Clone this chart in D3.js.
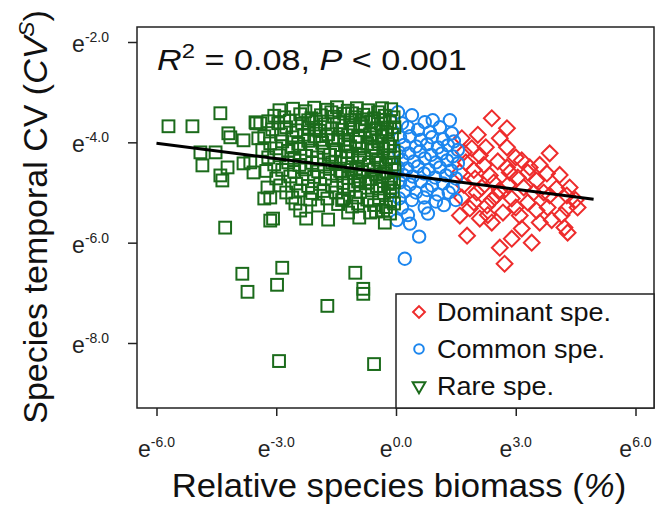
<!DOCTYPE html>
<html>
<head>
<meta charset="utf-8">
<script src="https://cdn.jsdelivr.net/npm/d3@7"></script>
<style>
  html, body { margin: 0; padding: 0; background: #fff; }
  svg { display: block; font-family: "Liberation Sans", Arial, Helvetica, sans-serif; }
</style>
</head>
<body>
<svg id="chart" width="656" height="510"></svg>
<script>
// ln(relative biomass %) vs ln(temporal CV), one list per abundance class
const rareSpecies = [
  [-5.7,-3.68],[-5.1,-3.68],[-4.4,-3.42],[-3.52,-3.6],[-3.5,-3.62],[-4.2,-3.82],[-4.15,-3.9],[-3.82,-3.96],
  [-3.45,-3.92],[-4.9,-4.2],[-4.52,-4.2],[-4.85,-4.46],[-4.4,-4.66],[-4.22,-4.5],[-3.82,-4.42],[-3.65,-4.4],
  [-3.57,-4.6],[-3.22,-4.9],[-3.15,-5.1],[-3.08,-5.52],[-3.4,-3.62],[-4.28,-5.7],[-4.35,-4.76],
  [-3.85,-6.62],[-3.72,-6.98],[-2.85,-6.5],[-2.98,-6.84],[-1.02,-6.6],[-0.82,-6.92],[-0.82,-7.02],
  [-1.72,-7.26],[-2.93,-8.36],[-0.55,-8.42],
  [-3.15,-5.56],[-2.25,-5.52],[-1.7,-5.54],[-0.92,-5.5],[-0.28,-5.6],[-3.3,-5.12],
  [-2.52,-5.22],[-2.4,-5.36],[-1.72,-5.12],[-1.32,-5.12],[-0.95,-5.22],[-0.65,-5.4],[-0.32,-5.36],
  [-2.92,-3.36],[-2.58,-3.33],[-2.27,-3.38],[-2.05,-3.31],[-1.72,-3.35],[-1.48,-3.3],[-1.21,-3.37],[-0.98,-3.32],[-0.7,-3.36],[-0.45,-3.4],[-0.12,-3.34],
  [-3.05,-3.47],[-2.8,-3.5],[-2.4,-3.44],[-2.12,-3.52],[-1.88,-3.46],[-1.55,-3.49],[-1.3,-3.43],[-1.02,-3.5],[-0.82,-3.45],[-0.55,-3.52],[-0.28,-3.47],[-0.06,-3.5],
  [-3.2,-3.58],[-2.95,-3.62],[-2.66,-3.57],[-2.35,-3.63],[-2.0,-3.59],[-1.78,-3.64],[-1.42,-3.6],[-1.15,-3.56],[-0.9,-3.63],[-0.62,-3.58],[-0.38,-3.62],[-0.15,-3.6],
  [-3.1,-3.74],[-2.75,-3.7],[-2.5,-3.76],[-2.18,-3.71],[-1.92,-3.77],[-1.6,-3.72],[-1.35,-3.75],[-1.08,-3.7],[-0.78,-3.76],[-0.5,-3.72],[-0.22,-3.74],[-0.04,-3.7],
  [-3.3,-3.88],[-2.88,-3.84],[-2.6,-3.9],[-2.3,-3.85],[-2.05,-3.88],[-1.7,-3.84],[-1.45,-3.9],[-1.2,-3.86],[-0.95,-3.89],[-0.65,-3.84],[-0.35,-3.88],[-0.1,-3.85],
  [-3.15,-4.02],[-2.85,-3.98],[-2.45,-4.03],[-2.2,-3.97],[-1.85,-4.01],[-1.58,-3.96],[-1.28,-4.04],[-1.0,-3.99],[-0.72,-4.03],[-0.45,-3.98],[-0.2,-4.02],
  [-3.35,-4.15],[-3.0,-4.12],[-2.7,-4.17],[-2.4,-4.13],[-2.1,-4.16],[-1.82,-4.11],[-1.5,-4.15],[-1.25,-4.18],[-0.92,-4.12],[-0.6,-4.16],[-0.32,-4.13],[-0.06,-4.17],
  [-3.2,-4.3],[-2.92,-4.26],[-2.55,-4.31],[-2.25,-4.27],[-1.98,-4.3],[-1.65,-4.25],[-1.38,-4.29],[-1.1,-4.26],[-0.8,-4.31],[-0.5,-4.27],[-0.18,-4.3],
  [-3.05,-4.44],[-2.7,-4.4],[-2.42,-4.45],[-2.1,-4.41],[-1.8,-4.44],[-1.52,-4.39],[-1.22,-4.43],[-0.95,-4.4],[-0.68,-4.45],[-0.4,-4.41],[-0.1,-4.44],
  [-3.25,-4.57],[-2.85,-4.55],[-2.55,-4.59],[-2.28,-4.54],[-1.95,-4.58],[-1.66,-4.53],[-1.4,-4.57],[-1.12,-4.55],[-0.85,-4.59],[-0.56,-4.54],[-0.25,-4.58],[-0.04,-4.55],
  [-3.0,-4.72],[-2.65,-4.68],[-2.35,-4.73],[-2.05,-4.69],[-1.78,-4.72],[-1.48,-4.67],[-1.2,-4.71],[-0.9,-4.68],[-0.62,-4.73],[-0.35,-4.69],[-0.12,-4.72],
  [-2.9,-4.86],[-2.5,-4.82],[-2.2,-4.87],[-1.9,-4.83],[-1.6,-4.86],[-1.32,-4.81],[-1.05,-4.85],[-0.76,-4.82],[-0.48,-4.87],[-0.2,-4.83],
  [-2.75,-5.0],[-2.4,-4.96],[-2.1,-5.01],[-1.82,-4.97],[-1.5,-5.0],[-1.18,-4.95],[-0.9,-4.99],[-0.6,-4.96],[-0.3,-5.01],[-0.08,-4.97],
  [-2.6,-5.1],[-2.15,-5.14],[-1.35,-5.15],[-1.0,-5.1],[-0.72,-5.14],[-0.42,-5.11],[-0.15,-5.15],
  [-1.95,-5.26],[-1.45,-5.23],[-1.1,-5.28],[-0.55,-5.25],[-0.25,-5.29],[-0.05,-5.22],
  [-0.15,-5.42],[-0.5,-5.38],[-1.2,-5.4],
  [-0.3,-3.55],[-0.6,-3.9],[-0.15,-4.08],[-0.45,-4.35],[-0.3,-4.62],[-0.7,-4.8],[-0.15,-4.9],[-1.0,-4.52],
  [-1.3,-3.95],[-0.85,-3.68],[-0.05,-4.3],[-0.55,-4.1],[-1.6,-4.4],[-2.0,-3.75],[-2.6,-4.1],
  [-1.62,-3.4],[-1.1,-3.42],[-0.35,-3.32],[-2.2,-3.56],[-0.75,-3.54],[-1.9,-3.95],[-0.25,-3.8],[-1.15,-4.08],
  [-0.9,-4.25],[-0.25,-4.45],[-1.35,-4.62],[-0.5,-4.64],[-0.95,-4.78],[-0.05,-4.8],[-0.4,-4.92]
];

const commonSpecies = [
  [0.05,-3.4],[0.4,-3.46],[0.72,-3.6],[0.92,-3.56],[1.35,-3.56],[0.3,-3.7],[0.55,-3.75],[0.15,-3.62],[1.1,-3.7],[1.4,-3.82],[0.85,-3.8],
  [0.1,-3.9],[0.35,-3.88],[0.62,-3.95],[0.9,-3.9],[1.18,-3.94],[1.45,-3.98],[0.2,-4.05],[0.5,-4.08],[0.78,-4.04],[1.05,-4.1],[1.3,-4.06],[1.55,-4.15],
  [0.08,-4.2],[0.32,-4.22],[0.6,-4.18],[0.88,-4.25],[1.15,-4.22],[1.42,-4.28],[0.15,-4.35],[0.45,-4.38],[0.72,-4.32],[1.0,-4.4],[1.28,-4.36],[1.55,-4.42],
  [0.05,-4.5],[0.28,-4.52],[0.55,-4.48],[0.82,-4.55],[1.1,-4.5],[1.38,-4.56],[0.18,-4.65],[0.42,-4.68],[0.7,-4.62],[0.98,-4.7],[1.25,-4.66],[1.5,-4.72],
  [0.1,-4.8],[0.35,-4.84],[0.62,-4.78],[0.9,-4.86],[1.18,-4.82],[1.42,-4.9],[0.22,-4.98],[0.5,-5.0],[0.78,-4.95],[1.05,-5.04],[1.32,-5.0],
  [0.08,-5.12],[0.4,-5.15],[0.7,-5.1],[1.0,-5.18],[1.5,-5.15],[0.15,-5.3],[0.72,-5.3],[1.2,-5.25],[0.3,-5.45],[0.8,-5.42],
  [0.35,-5.62],[0.58,-5.88],[0.22,-6.32],[0.02,-5.55]
];

const dominantSpecies = [
  [2.4,-3.52],[2.78,-3.72],[2.6,-3.92],[2.78,-4.1],[3.85,-4.22],[1.65,-3.92],[1.9,-4.12],[2.1,-4.26],
  [3.15,-4.36],[2.78,-4.5],[3.35,-4.5],[3.78,-4.62],[4.35,-4.9],[4.02,-4.92],[3.85,-5.06],[4.28,-5.06],
  [4.28,-5.32],[3.52,-5.36],[3.6,-5.6],[4.22,-5.7],[4.3,-5.8],[3.15,-5.72],[2.9,-5.92],[2.6,-6.1],
  [2.72,-6.42],[1.78,-5.86],[1.6,-5.46],[2.4,-5.6],[3.4,-6.0],[3.05,-4.7],[3.52,-4.76],[2.35,-4.66],
  [1.98,-4.72],[2.02,-5.0],[2.52,-5.06],[2.9,-5.12],[3.3,-5.2],[2.28,-5.26],[1.85,-5.32],[2.68,-5.4],
  [3.1,-5.46],[2.1,-5.52],
  [1.75,-4.4],[2.2,-4.45],[2.55,-4.38],[1.95,-4.55],[2.45,-4.8],[2.8,-4.85],[3.2,-4.9],[1.7,-4.85],
  [2.15,-4.9],[2.6,-4.95],[3.0,-5.3],[2.4,-5.15],[1.95,-5.2],[3.6,-4.45],[3.3,-4.6],[4.1,-4.65],
  [3.7,-5.0],[4.5,-5.15],[4.15,-5.45],[3.9,-5.55],[1.65,-5.1],[1.6,-4.6],[1.7,-4.2],[2.25,-4.1],
  [2.05,-3.85],[3.0,-4.3],[2.85,-4.6],[3.45,-5.0],[2.3,-5.45],[3.8,-5.3],[4.55,-5.3]
];

// fitted regression on the log scale
const fitSlope = -0.102;
const fitIntercept = -4.63;
const fitRange = [-6.0, 4.95];

const xTicks = [-6, -3, 0, 3, 6];
const yTicks = [-2, -4, -6, -8];

const legendItems = [
  { label: "Dominant spe.", shape: "diamond", color: "#ee2c2c" },
  { label: "Common spe.", shape: "circle", color: "#1c86ee" },
  { label: "Rare spe.", shape: "triangle", color: "#1b6b1b" }
];

const svg = d3.select("#chart");
const plot = { left: 137, top: 27, right: 654, bottom: 408 };

const x = d3.scaleLinear().domain([-6, 6]).range([156.5, 635.5]);
const y = d3.scaleLinear().domain([-2, -8]).range([42, 343]);

// points
const g = svg.append("g");
const sw = 2;

g.selectAll("path.dom").data(dominantSpecies).join("path")
  .attr("class", "dom")
  .attr("d", d3.symbol().type(d3.symbolSquare).size(125))
  .attr("transform", d => `translate(${x(d[0])},${y(d[1])}) rotate(45)`)
  .attr("fill", "none").attr("stroke", legendItems[0].color).attr("stroke-width", sw);

g.selectAll("circle.com").data(commonSpecies).join("circle")
  .attr("class", "com")
  .attr("cx", d => x(d[0])).attr("cy", d => y(d[1])).attr("r", 6.2)
  .attr("fill", "none").attr("stroke", legendItems[1].color).attr("stroke-width", sw);

g.selectAll("rect.rare").data(rareSpecies).join("rect")
  .attr("class", "rare")
  .attr("x", d => x(d[0]) - 5.9).attr("y", d => y(d[1]) - 5.9)
  .attr("width", 11.8).attr("height", 11.8)
  .attr("fill", "none").attr("stroke", legendItems[2].color).attr("stroke-width", sw);

// regression line
svg.append("line")
  .attr("x1", x(fitRange[0])).attr("y1", y(fitIntercept + fitSlope * fitRange[0]))
  .attr("x2", x(fitRange[1])).attr("y2", y(fitIntercept + fitSlope * fitRange[1]))
  .attr("stroke", "#000").attr("stroke-width", 3);

// frame
svg.append("rect")
  .attr("x", plot.left).attr("y", plot.top)
  .attr("width", plot.right - plot.left).attr("height", plot.bottom - plot.top)
  .attr("fill", "none").attr("stroke", "#222").attr("stroke-width", 1.5);

// axes
const xAxis = svg.append("g").attr("transform", `translate(0,${plot.bottom})`)
  .call(d3.axisBottom(x).tickValues(xTicks).tickSize(8).tickFormat(() => ""));
xAxis.select(".domain").remove();
xAxis.selectAll(".tick line").attr("stroke", "#222").attr("stroke-width", 1.5);

const yAxis = svg.append("g").attr("transform", `translate(${plot.left},0)`)
  .call(d3.axisLeft(y).tickValues(yTicks).tickSize(9).tickFormat(() => ""));
yAxis.select(".domain").remove();
yAxis.selectAll(".tick line").attr("stroke", "#222").attr("stroke-width", 1.5);

function expLabel(sel, v) {
  sel.append("tspan").attr("font-size", 23).text("e");
  sel.append("tspan").attr("font-size", 14).attr("dy", -10).text(v.toFixed(1));
}

xTicks.forEach(v => {
  const t = svg.append("text").attr("x", x(v)).attr("y", 457)
    .attr("text-anchor", "middle").attr("fill", "#222");
  expLabel(t, v);
});
yTicks.forEach(v => {
  const t = svg.append("text").attr("x", 109).attr("y", y(v) + 10)
    .attr("text-anchor", "end").attr("fill", "#222");
  expLabel(t, v);
});

// axis titles (type is set slightly wide)
const xt = svg.append("g").attr("transform", "translate(399,497) scale(1.05,1)")
  .append("text").attr("text-anchor", "middle").attr("font-size", 33).attr("fill", "#111");
xt.append("tspan").text("Relative species biomass (");
xt.append("tspan").attr("font-style", "italic").text("%");
xt.append("tspan").text(")");

const yt = svg.append("g").attr("transform", "translate(47,217) rotate(-90) scale(1.03,1)")
  .append("text").attr("text-anchor", "middle").attr("font-size", 33).attr("fill", "#111");
yt.append("tspan").text("Species temporal CV (");
yt.append("tspan").attr("font-style", "italic").text("CV");
yt.append("tspan").attr("font-style", "italic").attr("font-size", 22).attr("dy", -13).text("S");
yt.append("tspan").attr("dy", 13).text(")");

// statistics
const st = svg.append("g").attr("transform", "translate(157,70) scale(1.14,1)")
  .append("text").attr("font-size", 30).attr("fill", "#111");
st.append("tspan").attr("font-style", "italic").text("R");
st.append("tspan").attr("font-size", 21).attr("dy", -12).text("2");
st.append("tspan").attr("dy", 12).text(" = 0.08, ");
st.append("tspan").attr("font-style", "italic").text("P");
st.append("tspan").text(" < 0.001");

// legend
const lg = svg.append("g");
lg.append("rect")
  .attr("x", 396).attr("y", 294).attr("width", plot.right - 396).attr("height", plot.bottom - 294)
  .attr("fill", "#fff").attr("stroke", "#222").attr("stroke-width", 1.5);

legendItems.forEach((d, i) => {
  const cy = 312 + i * 37;
  const cx = 419;
  if (d.shape === "diamond") {
    lg.append("path").attr("d", d3.symbol().type(d3.symbolSquare).size(70))
      .attr("transform", `translate(${cx},${cy}) rotate(45)`)
      .attr("fill", "none").attr("stroke", d.color).attr("stroke-width", 2);
  } else if (d.shape === "circle") {
    lg.append("circle").attr("cx", cx).attr("cy", cy).attr("r", 4.8)
      .attr("fill", "none").attr("stroke", d.color).attr("stroke-width", 2);
  } else {
    lg.append("path").attr("d", d3.symbol().type(d3.symbolTriangle).size(70))
      .attr("transform", `translate(${cx},${cy}) rotate(180)`)
      .attr("fill", "none").attr("stroke", d.color).attr("stroke-width", 2);
  }
  lg.append("g").attr("transform", `translate(437,${cy + 9}) scale(1.08,1)`)
    .append("text").attr("font-size", 25).attr("fill", "#111").text(d.label);
});
</script>
</body>
</html>
